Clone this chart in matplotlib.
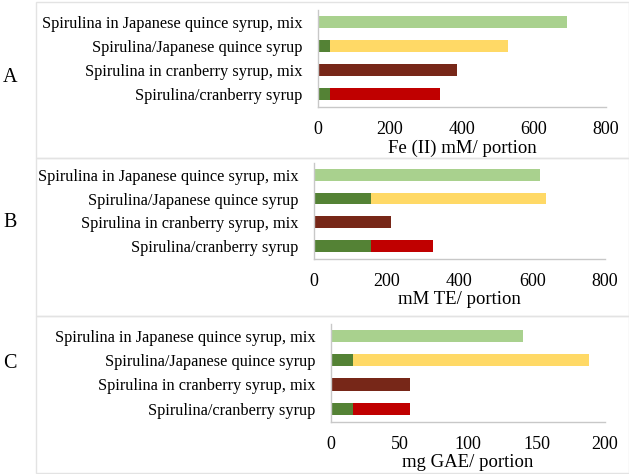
import matplotlib
matplotlib.use("Agg")
import matplotlib.pyplot as plt
from matplotlib.patches import Rectangle

plt.rcParams['font.family'] = ['Liberation Serif', 'DejaVu Serif']

categories = ["Spirulina in Japanese quince syrup, mix",
              "Spirulina/Japanese quince syrup",
              "Spirulina in cranberry syrup, mix",
              "Spirulina/cranberry syrup"]
row_colors = ["#A9D18E", "#FFD966", "#772718", "#C00000"]
spirulina_color = "#548235"

panel_letters = ["A", "B", "C"]
xlabels = ["Fe (II) mM/ portion", "mM TE/ portion", "mg GAE/ portion"]
xticks_list = [[0, 200, 400, 600, 800], [0, 200, 400, 600, 800], [0, 50, 100, 150, 200]]

# spirulina component (green) and remaining component per row, top to bottom
spirulina_A = [0, 33, 0, 33]
rest_A = [691, 496, 385, 306]
spirulina_B = [0, 157, 0, 157]
rest_B = [621, 480, 213, 169]
spirulina_C = [0, 16.3, 0, 16.3]
rest_C = [140, 171.7, 57.3, 41]

spir = [spirulina_A, spirulina_B, spirulina_C]
rest = [rest_A, rest_B, rest_C]

W, H = 629, 474
fig = plt.figure(figsize=(W / 100, H / 100), dpi=100)

# axes boxes in pixels: left, right, top, bottom
boxes = [(318, 606, 10, 107), (314, 605, 163, 259), (331, 605, 324, 422)]
frames = [(36, 2, 629, 158), (36, 158, 629, 316), (36, 316, 629, 473)]
letter_y = [78, 222, 363]

for i in range(3):
    l, r, t, b = boxes[i]
    ax = fig.add_axes([l / W, 1 - b / H, (r - l) / W, (b - t) / H])
    n = len(categories)
    ypos = list(range(n - 1, -1, -1))
    ax.barh(ypos, spir[i], height=0.5, color=spirulina_color, zorder=2)
    ax.barh(ypos, rest[i], left=spir[i], height=0.5, color=row_colors, zorder=2)
    ax.set_ylim(-0.55, 3.5)
    ax.set_xlim(xticks_list[i][0], xticks_list[i][-1])
    ax.set_xticks(xticks_list[i])
    ax.set_yticks(ypos)
    ax.set_yticklabels(categories, fontsize=11.8)
    ax.tick_params(axis='both', length=0)
    ax.tick_params(axis='x', labelsize=13, pad=10)
    ax.tick_params(axis='y', pad=11)
    for s in ['top', 'right']:
        ax.spines[s].set_visible(False)
    for s in ['left', 'bottom']:
        ax.spines[s].set_color('#c8c8c8')
        ax.spines[s].set_linewidth(1)
    ax.set_xlabel(xlabels[i], fontsize=13.5, labelpad=1)
    ax.patch.set_alpha(0)

    fx0, fy0, fx1, fy1 = frames[i]
    fig.patches.append(Rectangle((fx0 / W, 1 - fy1 / H), (fx1 - fx0) / W, (fy1 - fy0) / H,
                                 transform=fig.transFigure, fill=False,
                                 edgecolor='#e3e3e3', linewidth=1, zorder=0))
    fig.text(10 / W, 1 - letter_y[i] / H, panel_letters[i], fontsize=14.5,
             ha='center', va='center')

fig.savefig("out.png", dpi=100)
